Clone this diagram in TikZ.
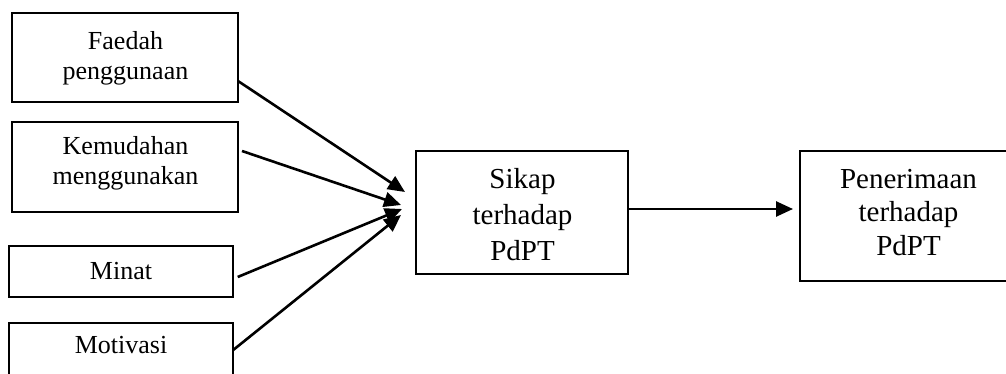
\documentclass[tikz,border=0pt]{standalone}
\usepackage{fontspec}
\setmainfont{Liberation Serif}
\usetikzlibrary{arrows.meta}
\tikzset{
  box/.style={draw, line width=2pt, inner sep=0pt},
  smalltxt/.style={align=center, inner sep=0pt, font=\fontsize{26}{29.5}\selectfont},
  bigtxt/.style={align=center, inner sep=0pt, font=\fontsize{29}{36}\selectfont},
  arr/.style={line width=2.6pt, -{Triangle[length=17pt,width=15pt]}}
}
\begin{document}
\begin{tikzpicture}[x=1pt,y=-1pt]
\useasboundingbox (0,0) rectangle (1006,374);
\clip (0,0) rectangle (1006,374);
% boxes
\node[box, minimum width=226pt, minimum height=88.4pt] (fa) at (125,57.5) {};
\node[box, minimum width=226pt, minimum height=90pt] (km) at (125,166.7) {};
\node[box, minimum width=223.4pt, minimum height=50.7pt] (mi) at (121,271.3) {};
\node[box, minimum width=223.4pt, minimum height=57pt] (mo) at (121,351.5) {};
\node[box, minimum width=212.6pt, minimum height=123.6pt] (sk) at (522,212.5) {};
\node[box, minimum width=260pt, minimum height=130pt] (pn) at (930,215.7) {};
% texts
\node[smalltxt] (faT) at (125.5,58.5) {Faedah\\penggunaan};
\node[smalltxt] (kmT) at (125.5,163.5) {Kemudahan\\menggunakan};
\node[smalltxt] (miT) at (121,271.5) {Minat};
\node[smalltxt] (moT) at (121,345) {Motivasi};
\node[bigtxt] (skT) at (522.5,215) {Sikap\\terhadap\\PdPT};
\node[bigtxt, font=\fontsize{29}{33.5}\selectfont] (pnT) at (908.5,212.5) {Penerimaan\\terhadap\\PdPT};
% connectors
\draw[arr] ([xshift=-1pt,yshift=-23.5pt]fa.east) -- ([xshift=-9.7pt,yshift=20.5pt]sk.west);
\draw[arr] ([xshift=3pt,yshift=15.7pt]km.east) -- ([xshift=-13.7pt,yshift=7.5pt]sk.west);
\draw[arr] ([xshift=4pt,yshift=-5.7pt]mi.east) -- ([xshift=-12.7pt,yshift=3.5pt]sk.west);
\draw[arr] ([xshift=-0.5pt,yshift=1.5pt]mo.east) -- ([xshift=-13.7pt,yshift=-2.5pt]sk.west);
\draw[arr] ([yshift=3.5pt]sk.east) -- ([xshift=-6pt,yshift=6.7pt]pn.west);
\end{tikzpicture}
\end{document}
